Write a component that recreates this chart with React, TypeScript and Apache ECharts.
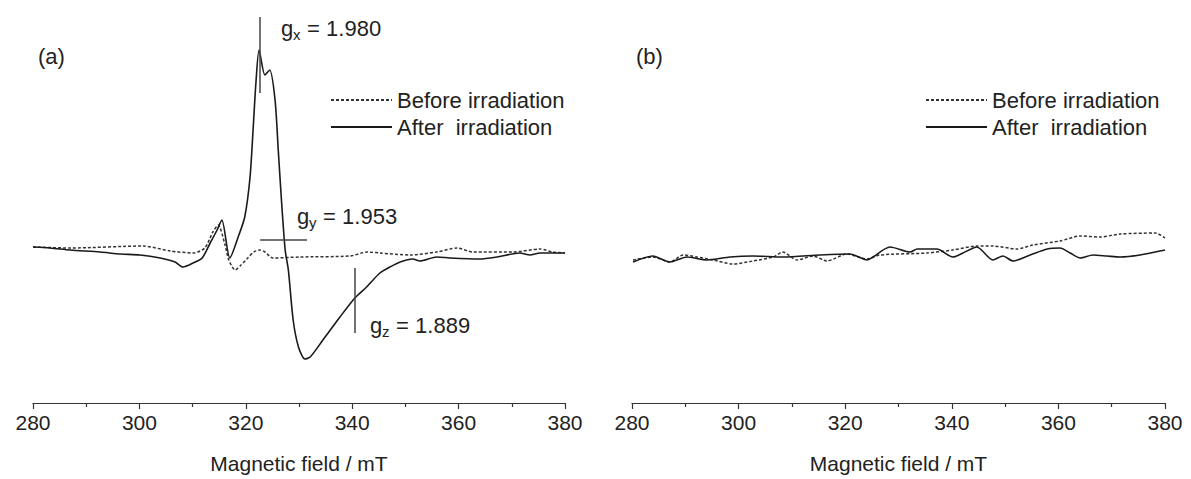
import React, { useEffect, useRef } from "react";
import * as echarts from "echarts";

const FONT = '"Liberation Sans", Arial, Helvetica, sans-serif';

// x-axis ticks (mT)
const fieldMin = 280;
const fieldMax = 380;
const fieldStep = 20;

// Panel (a): after irradiation
const afterAField = [280, 283.2, 287, 292.6, 296.4, 300.1, 303.9, 306.7, 308.2, 310.1, 311.8, 313.3, 314.6, 315.5, 317.0, 318.5, 319.8, 320.8, 321.4, 321.9, 322.5, 323.6, 324.5, 325.5, 326.1, 326.7, 327.4, 328.0, 328.9, 329.9, 331.1, 332.1, 334.5, 337.7, 340.5, 342.7, 345.2, 347.1, 349.0, 351.4, 352.7, 355.9, 358.4, 364.0, 367.2, 371.5, 373.4, 375.3, 380];
const afterAValue = [3, 2, 0, -2, -4, -5, -8, -12, -17, -13, -8, 7, 20, 30, -8, 12, 33, 73, 123, 167, 200, 175, 180, 150, 100, 50, 0, -20, -70, -97, -109, -107, -90, -67, -48, -37, -23, -17, -12, -9, -11, -7, -8, -9, -7, -3, -5, -3, -3];

// Panel (a): before irradiation
const beforeAField = [280, 287, 300.7, 305.8, 310.1, 312.3, 313.8, 314.8, 316.1, 316.8, 318.0, 319.1, 320.2, 321.5, 322.7, 323.6, 325.1, 330.2, 339.6, 342.8, 345.2, 350.9, 355.9, 359.7, 362.7, 370.2, 375.3, 377.7, 380];
const beforeAValue = [3, 2, 4, -1, -3, 2, 18, 25, 5, -10, -20, -15, -9, -2, 0, -2, -8, -7, -6, -2, -3, -5, -2, 2, -2, -2, 1, -2, -3];

// Panel (b): after irradiation
const afterBField = [280.2, 283.9, 287.1, 290.3, 294.1, 298.4, 302.7, 308.3, 315.3, 320.9, 324.1, 325.2, 328.4, 332.2, 333.5, 337.2, 340.2, 342.1, 344.7, 347.7, 349.6, 351.5, 354.7, 357.9, 360.3, 362.2, 364.1, 366.5, 369.1, 371.6, 375.3, 380];
const afterBValue = [-12, -6, -12, -7, -10, -7, -6, -7, -5, -4, -10, -7, 3, -2, 1, 1, -7, -3, 3, -10, -6, -11, -5, 1, 2, -3, -8, -5, -6, -7, -5, 0];

// Panel (b): before irradiation
const beforeBField = [280.2, 283.9, 287.1, 289.6, 292.2, 295.2, 298.9, 302.7, 306.5, 308.3, 311.0, 314.0, 316.6, 320.3, 324.1, 326.5, 335.3, 340.2, 344.7, 347.7, 352.2, 355.2, 360.3, 364.1, 367.8, 371.6, 378.2, 380];
const beforeBValue = [-10, -7, -12, -5, -7, -10, -14, -11, -7, -2, -10, -6, -11, -4, -9, -5, -3, 0, 4, 4, 1, 5, 9, 14, 13, 16, 17, 12];

// g-value markers: [field, intensity from, intensity to]
const gxMarker = [322.6, 233, 157];
const gyMarker = [322.7, 331.5, 10];
const gzMarker = [340.5, -18, -83];

const seriesNames = ["Before irradiation", "After  irradiation"];
const axisTitle = "Magnetic field / mT";

const pairs = (xs: number[], ys: number[]) => xs.map((x, i) => [x, ys[i]]);

export default function App() {
  const ref = useRef<HTMLDivElement>(null);
  useEffect(() => {
    if (!ref.current) return;
    const chart = echarts.init(ref.current, null, { renderer: "svg" });
    const xAxisBase = (gridIndex: number) => ({
      type: "value",
      gridIndex,
      min: fieldMin,
      max: fieldMax,
      interval: fieldStep,
      name: axisTitle,
      nameLocation: "middle",
      nameGap: 50,
      nameTextStyle: { fontFamily: FONT, fontSize: 21, color: "#222" },
      axisLine: { show: true, onZero: false, lineStyle: { color: "#333", width: 1.2 } },
      axisTick: { show: true, length: 6, lineStyle: { color: "#333", width: 1.2 } },
      minorTick: { show: true, splitNumber: 2, length: 4, lineStyle: { color: "#333", width: 1.2 } },
      splitLine: { show: false },
      minorSplitLine: { show: false },
      axisLabel: { fontFamily: FONT, fontSize: 21, color: "#222", margin: 9 },
    });
    const yAxisBase = (gridIndex: number) => ({
      type: "value",
      gridIndex,
      min: -153,
      max: 250,
      show: false,
    });
    const dashed = { color: "#333", width: 1.5, type: [3, 2] };
    const solid = { color: "#1a1a1a", width: 1.6, type: "solid" };
    const annotLine = { color: "#444", width: 1.5, type: "solid" };

    const subLabel = (x: number, y: number, sub: string, rest: string) => ({
      type: "group",
      children: [
        { type: "text", x, y, style: { text: "g", font: `22px ${FONT}`, fill: "#222", verticalAlign: "middle" } },
        { type: "text", x: x + 12, y: y + 6, style: { text: sub, font: `15px ${FONT}`, fill: "#222", verticalAlign: "middle" } },
        { type: "text", x: x + 20, y, style: { text: rest, font: `22px ${FONT}`, fill: "#222", verticalAlign: "middle" } },
      ],
    });

    chart.setOption({
      animation: false,
      backgroundColor: "#fff",
      grid: [
        { left: 33, width: 532, top: 0, height: 403 },
        { left: 632, width: 533, top: 0, height: 403 },
      ],
      xAxis: [xAxisBase(0), xAxisBase(1)],
      yAxis: [yAxisBase(0), yAxisBase(1)],
      legend: [0, 1].map((i) => ({
        orient: "vertical",
        left: i === 0 ? 330 : 925,
        top: 89,
        padding: 0,
        itemGap: 5,
        itemWidth: 61,
        itemHeight: 10,
        itemStyle: { opacity: 0 },
        textStyle: { fontFamily: FONT, fontSize: 22, color: "#222" },
        data: seriesNames,
      })),
      series: [
        {
          name: seriesNames[0],
          type: "line",
          xAxisIndex: 0,
          yAxisIndex: 0,
          symbol: "none",
          smooth: 0.25,
          lineStyle: dashed,
          itemStyle: { color: "#333" },
          data: pairs(beforeAField, beforeAValue),
        },
        {
          name: seriesNames[1],
          type: "line",
          xAxisIndex: 0,
          yAxisIndex: 0,
          symbol: "none",
          smooth: 0.25,
          lineStyle: solid,
          itemStyle: { color: "#1a1a1a" },
          data: pairs(afterAField, afterAValue),
          markLine: {
            silent: true,
            symbol: ["none", "none"],
            label: { show: false },
            lineStyle: annotLine,
            data: [
              [{ coord: [gxMarker[0], gxMarker[1]] }, { coord: [gxMarker[0], gxMarker[2]] }],
              [{ coord: [gyMarker[0], gyMarker[2]] }, { coord: [gyMarker[1], gyMarker[2]] }],
              [{ coord: [gzMarker[0], gzMarker[1]] }, { coord: [gzMarker[0], gzMarker[2]] }],
            ],
          },
        },
        {
          name: seriesNames[0],
          type: "line",
          xAxisIndex: 1,
          yAxisIndex: 1,
          symbol: "none",
          smooth: 0.25,
          lineStyle: dashed,
          itemStyle: { color: "#333" },
          data: pairs(beforeBField, beforeBValue),
        },
        {
          name: seriesNames[1],
          type: "line",
          xAxisIndex: 1,
          yAxisIndex: 1,
          symbol: "none",
          smooth: 0.25,
          lineStyle: solid,
          itemStyle: { color: "#1a1a1a" },
          data: pairs(afterBField, afterBValue),
        },
      ],
      graphic: [
        { type: "text", x: 38, y: 56, style: { text: "(a)", font: `22px ${FONT}`, fill: "#222", verticalAlign: "middle" } },
        { type: "text", x: 636, y: 56, style: { text: "(b)", font: `22px ${FONT}`, fill: "#222", verticalAlign: "middle" } },
        subLabel(281, 28, "x", " = 1.980"),
        subLabel(297, 216, "y", " = 1.953"),
        subLabel(370, 325, "z", " = 1.889"),
      ],
    });
    return () => chart.dispose();
  }, []);
  return (
    <div
      ref={ref}
      style={{ position: "absolute", left: 0, top: 0, width: 1191, height: 479, background: "#fff" }}
    />
  );
}
